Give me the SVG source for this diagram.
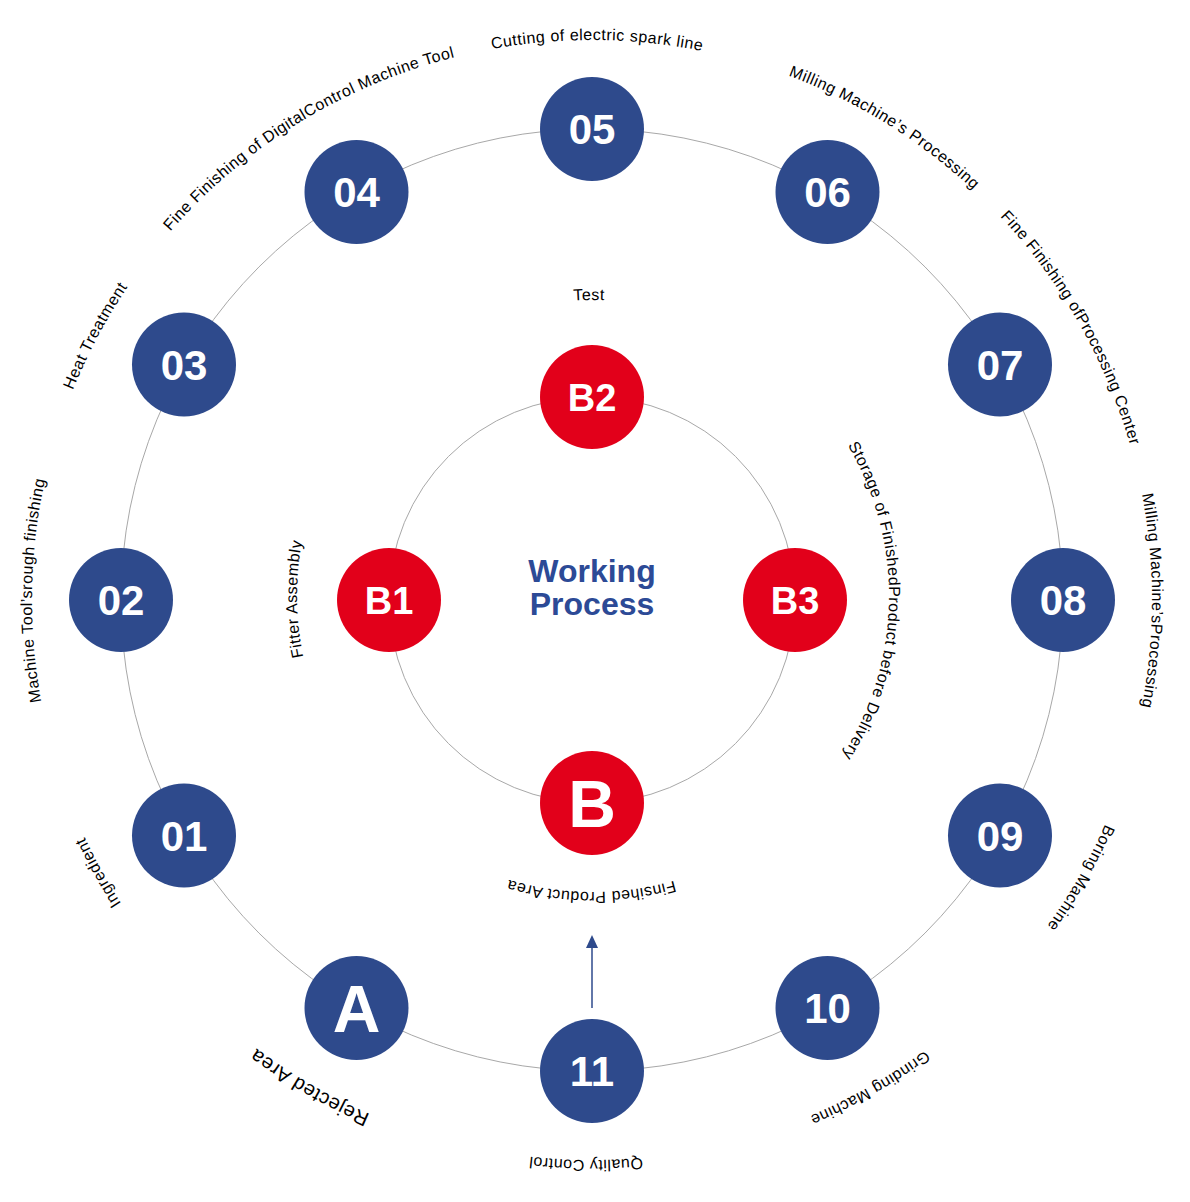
<svg xmlns="http://www.w3.org/2000/svg" width="1190" height="1202" viewBox="0 0 1190 1202">
  <style>
    .ring { fill: none; stroke: #a8a8a8; stroke-width: 1; }
    .blue { fill: #2e4a8c; }
    .red { fill: #e2001a; }
    .num { fill: #ffffff; font-family: "Liberation Sans", Arial, sans-serif; font-weight: bold; text-anchor: middle; }
    .n42 { font-size: 42px; }
    .n38 { font-size: 38px; }
    .n66 { font-size: 66px; }
    .lbl { fill: #000000; font-family: "Liberation Sans", Arial, sans-serif; font-size: 16px; letter-spacing: 0.5px; }
    .title { fill: #2c4a96; font-family: "Liberation Sans", Arial, sans-serif; font-size: 32px; font-weight: bold; text-anchor: middle; }
  </style>
  <defs>
    <path id="outerPath" d="M 32 600 A 560 560 0 1 1 1152 600 A 560 560 0 1 1 32 600 A 560 560 0 1 1 1152 600 A 560 560 0 1 1 32 600 A 560 560 0 1 1 1152 600 A 560 560 0 1 1 32 600"/>
    <path id="innerPath" d="M 297 596 A 296 296 0 1 1 889 596 A 296 296 0 1 1 297 596 A 296 296 0 1 1 889 596 A 296 296 0 1 1 297 596 A 296 296 0 1 1 889 596 A 296 296 0 1 1 297 596"/>
    <marker id="arrow" viewBox="0 0 13 12" refX="1" refY="6" markerWidth="13" markerHeight="12" markerUnits="userSpaceOnUse" orient="auto">
      <path d="M 0 0 L 13 6 L 0 12 Z" fill="#2e4a8c"/>
    </marker>
  </defs>
  <rect width="1190" height="1202" fill="#ffffff"/>

  <g id="connectors">
    <circle class="ring" cx="592" cy="600" r="471"/>
    <circle class="ring" cx="592" cy="600" r="203"/>
    <line x1="592" y1="1008" x2="592" y2="947" stroke="#2e4a8c" stroke-width="1.5" marker-end="url(#arrow)"/>
  </g>

  <g id="title">
    <text class="title" x="592" y="582">Working</text>
    <text class="title" x="592" y="615">Process</text>
  </g>

  <g id="node-05"><circle class="blue" cx="592" cy="129" r="52"/><text class="num n42" x="592" y="144">05</text>
    <text class="lbl"><textPath href="#outerPath" startOffset="4403" text-anchor="middle">Cutting of electric spark line</textPath></text></g>
  <g id="node-04"><circle class="blue" cx="356.5" cy="192" r="52"/><text class="num n42" x="356.5" y="207">04</text>
    <text class="lbl"><textPath href="#outerPath" startOffset="4090" text-anchor="middle">Fine Finishing of DigitalControl Machine Tool</textPath></text></g>
  <g id="node-03"><circle class="blue" cx="184" cy="364.5" r="52"/><text class="num n42" x="184" y="379.5">03</text>
    <text class="lbl"><textPath href="#outerPath" startOffset="3792" text-anchor="middle">Heat Treatment</textPath></text></g>
  <g id="node-02"><circle class="blue" cx="121" cy="600" r="52"/><text class="num n42" x="121" y="615">02</text>
    <text class="lbl"><textPath href="#outerPath" startOffset="3528" text-anchor="middle">Machine Tool’srough finishing</textPath></text></g>
  <g id="node-01"><circle class="blue" cx="184" cy="835.5" r="52"/><text class="num n42" x="184" y="850.5">01</text>
    <text class="lbl"><textPath href="#outerPath" startOffset="6754" text-anchor="middle">Ingredient</textPath></text></g>
  <g id="node-A"><circle class="blue" cx="356.5" cy="1008" r="52"/><text class="num n66" x="356.5" y="1031.5">A</text>
    <text class="lbl" style="font-size:20px"><textPath href="#outerPath" startOffset="6451" text-anchor="middle">Rejected Area</textPath></text></g>
  <g id="node-11"><circle class="blue" cx="592" cy="1071" r="52"/><text class="num n42" x="592" y="1086">11</text>
    <text class="lbl"><textPath href="#outerPath" startOffset="6163" text-anchor="middle">Quality Control</textPath></text></g>
  <g id="node-10"><circle class="blue" cx="827.5" cy="1008" r="52"/><text class="num n42" x="827.5" y="1023">10</text>
    <text class="lbl"><textPath href="#outerPath" startOffset="5867" text-anchor="middle">Grinding Machine</textPath></text></g>
  <g id="node-09"><circle class="blue" cx="1000" cy="835.5" r="52"/><text class="num n42" x="1000" y="850.5">09</text>
    <text class="lbl"><textPath href="#outerPath" startOffset="5567" text-anchor="middle">Boring Machine</textPath></text></g>
  <g id="node-08"><circle class="blue" cx="1063" cy="600" r="52"/><text class="num n42" x="1063" y="615">08</text>
    <text class="lbl"><textPath href="#outerPath" startOffset="5278" text-anchor="middle">Milling Machine’sProcessing</textPath></text></g>
  <g id="node-07"><circle class="blue" cx="1000" cy="364.5" r="52"/><text class="num n42" x="1000" y="379.5">07</text>
    <text class="lbl"><textPath href="#outerPath" startOffset="4988" text-anchor="middle">Fine Finishing ofProcessing Center</textPath></text></g>
  <g id="node-06"><circle class="blue" cx="827.5" cy="192" r="52"/><text class="num n42" x="827.5" y="207">06</text>
    <text class="lbl"><textPath href="#outerPath" startOffset="4708" text-anchor="middle">Milling Machine’s Processing</textPath></text></g>

  <g id="node-B2"><circle class="red" cx="592" cy="397" r="52"/><text class="num n38" x="592" y="410.5">B2</text>
    <text class="lbl"><textPath href="#innerPath" startOffset="2320" text-anchor="middle">Test</textPath></text></g>
  <g id="node-B3"><circle class="red" cx="795" cy="600" r="52"/><text class="num n38" x="795" y="613.5">B3</text>
    <text class="lbl"><textPath href="#innerPath" startOffset="2794" text-anchor="middle">Storage of FinishedProduct before Delivery</textPath></text></g>
  <g id="node-B"><circle class="red" cx="592" cy="803" r="52"/><text class="num n66" x="592" y="826.5">B</text>
    <text class="lbl"><textPath href="#innerPath" startOffset="3255" text-anchor="middle">Finsihed Product Area</textPath></text></g>
  <g id="node-B1"><circle class="red" cx="389" cy="600" r="52"/><text class="num n38" x="389" y="613.5">B1</text>
    <text class="lbl"><textPath href="#innerPath" startOffset="1856" text-anchor="middle">Fitter Assembly</textPath></text></g>
</svg>
